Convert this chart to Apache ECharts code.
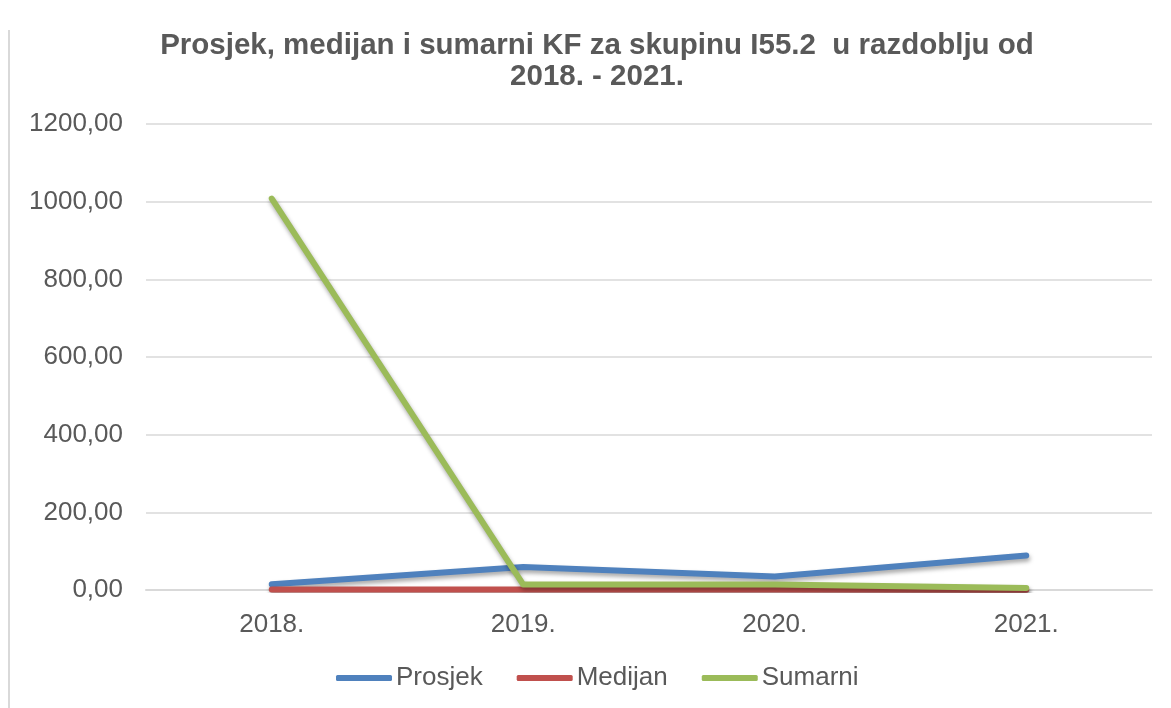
<!DOCTYPE html>
<html>
<head>
    <meta charset="UTF-8">
    <title>Prosjek, medijan i sumarni KF</title>
    <script src="https://cdn.jsdelivr.net/npm/echarts@6.0.0/dist/echarts.min.js"></script>
    <style>
        body { margin: 0; padding: 0; background: #fff; }
        #chart { width: 1171px; height: 708px; }
    </style>
</head>
<body>
<div id="chart"></div>
<script>
// podaci
const godine = ['2018.', '2019.', '2020.', '2021.'];
const prosjek = [15, 59, 35, 89];
const medijan = [1.5, 1, 1, 0.5];
const sumarni = [1008, 14, 14, 5];

const boje = ['#4F81BD', '#C0504D', '#9BBB59'];
const font = '"Liberation Sans", Arial, sans-serif';

function linija(name, data, color) {
    return {
        name: name,
        type: 'line',
        data: data,
        showSymbol: false,
        symbol: 'none',
        itemStyle: { color: color },
        lineStyle: {
            width: 6,
            color: color,
            cap: 'round',
            join: 'round',
            shadowColor: 'rgba(0,0,0,0.35)',
            shadowBlur: 4,
            shadowOffsetX: 1,
            shadowOffsetY: 3
        }
    };
}

const chart = echarts.init(document.getElementById('chart'));
chart.setOption({
    animation: false,
    title: {
        text: 'Prosjek, medijan i sumarni KF za skupinu I55.2  u razdoblju od\n2018. - 2021.',
        left: 592,
        textAlign: 'center',
        top: 25,
        textStyle: {
            fontFamily: font,
            fontSize: 29.5,
            fontWeight: 'bold',
            color: '#595959',
            lineHeight: 31
        }
    },
    legend: {
        bottom: 12,
        left: 331,
        icon: 'roundRect',
        itemWidth: 56,
        itemHeight: 6,
        itemGap: 34,
        textStyle: { fontFamily: font, fontSize: 26, color: '#595959', padding: [0, 0, 0, -1] },
        data: ['Prosjek', 'Medijan', 'Sumarni']
    },
    grid: { left: 146, right: 19, top: 124, bottom: 118 },
    xAxis: {
        type: 'category',
        data: godine,
        boundaryGap: true,
        axisLine: { lineStyle: { color: '#D9D9D9', width: 2 } },
        axisTick: { show: false },
        axisLabel: { fontFamily: font, fontSize: 26, color: '#595959', margin: 22 }
    },
    yAxis: {
        type: 'value',
        min: 0,
        max: 1200,
        interval: 200,
        axisLine: { show: false },
        axisTick: { show: false },
        splitLine: { lineStyle: { color: '#D9D9D9', width: 1.5 } },
        axisLabel: {
            fontFamily: font,
            fontSize: 26,
            color: '#595959',
            margin: 23,
            formatter: v => v.toFixed(2).replace('.', ',')
        }
    },
    graphic: [{
        type: 'line',
        shape: { x1: 9, y1: 30, x2: 9, y2: 708 },
        style: { stroke: '#D9D9D9', lineWidth: 2 }
    }],
    series: [
        linija('Prosjek', prosjek, boje[0]),
        linija('Medijan', medijan, boje[1]),
        linija('Sumarni', sumarni, boje[2])
    ]
});
</script>
</body>
</html>
